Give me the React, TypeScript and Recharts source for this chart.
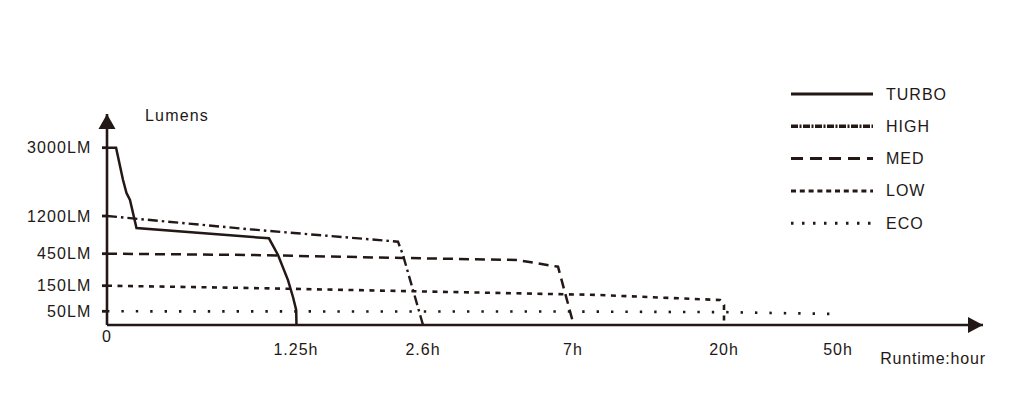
import React from 'react';
import { LineChart, Line, XAxis, YAxis, ReferenceDot } from 'recharts';

// ---- axis ticks (non-linear axes) ----
const X_TICK_HOURS = [0, 1.25, 2.6, 7, 20, 50];
const X_TICK_LABELS = ['0', '1.25h', '2.6h', '7h', '20h', '50h'];
const Y_TICK_LUMENS = [50, 150, 450, 1200, 3000];
const Y_TICK_LABELS = ['50LM', '150LM', '450LM', '1200LM', '3000LM'];

// ---- series: [hours, lumens] ----
const TURBO: [number, number][] = [
  [0, 3000], [0.06, 3000], [0.106, 2149], [0.129, 1806], [0.152, 1622], [0.195, 961],
  [1.071, 756], [1.131, 438], [1.197, 203], [1.23, 106], [1.252, 55], [1.255, 0],
];
const HIGH: [number, number][] = [
  [0, 1200], [0.946, 935], [2.334, 689], [2.387, 438], [2.494, 133], [2.6, 0],
];
const MED: [number, number][] = [
  [0, 450], [0.946, 438], [2.387, 410], [5.357, 391], [6.56, 328], [7.06, 0],
];
const LOW: [number, number][] = [
  [0, 150], [0.946, 141], [9.07, 114], [19.66, 94], [20, 75], [20, 0],
];
const ECO: [number, number][] = [
  [0, 50], [7, 49], [20, 47], [49.7, 40],
];

// ---- axis scale definition (piecewise-linear axis layout) ----
const X_SCALE_VALUES = [0, 1.25, 2.6, 7, 20, 50];
const X_SCALE_UNITS = [0, 189, 316, 466, 617, 731];
const X_DOMAIN_MAX = 876;
const Y_SCALE_VALUES = [0, 50, 150, 450, 1200, 3000];
const Y_SCALE_UNITS = [0, 13.7, 39.3, 71.3, 109, 177.3];
const Y_DOMAIN_MAX = 211;

const INK = '#231815';
const FONT = '"Liberation Sans", Arial, Helvetica, sans-serif';

function piecewise(v: number, vals: number[], units: number[]) {
  const n = vals.length;
  for (let i = 1; i < n; i++) {
    if (v <= vals[i] || i === n - 1) {
      const t = (v - vals[i - 1]) / (vals[i] - vals[i - 1]);
      return units[i - 1] + t * (units[i] - units[i - 1]);
    }
  }
  return 0;
}
const toX = (h: number) => piecewise(h, X_SCALE_VALUES, X_SCALE_UNITS);
const toY = (lm: number) => piecewise(lm, Y_SCALE_VALUES, Y_SCALE_UNITS);
const toPlot = (s: [number, number][]) => s.map(([h, lm]) => ({ x: toX(h), y: toY(lm) }));

const SERIES = [
  { name: 'TURBO', data: TURBO, dash: undefined as string | undefined, legendDash: undefined as string | undefined, width: 2.5 },
  { name: 'HIGH', data: HIGH, dash: '10 4 2.5 4', legendDash: '7 1.5 2 1.5', width: 2.4 },
  { name: 'MED', data: MED, dash: '10 6', legendDash: '12 7', width: 2.5 },
  { name: 'LOW', data: LOW, dash: '5 5.5', legendDash: '5 3.8', width: 2.6 },
  { name: 'ECO', data: ECO, dash: '2.4 12', legendDash: '2.5 8.5', width: 2.6 },
];

const xTickPos = X_TICK_HOURS.map(toX);
const yTickPos = Y_TICK_LUMENS.map(toY);

const XTick = (props: any) => {
  const { x, y, payload } = props;
  const idx = xTickPos.findIndex((p) => Math.abs(p - payload.value) < 1e-6);
  const label = idx >= 0 ? X_TICK_LABELS[idx] : '';
  return (
    <text x={x} y={idx === 0 ? y + 11 : y + 24} textAnchor="middle" dominantBaseline="central"
      fontFamily={FONT} fontSize={16} letterSpacing={1} fill={INK}>{label}</text>
  );
};

const YTick = (props: any) => {
  const { x, y, payload } = props;
  const idx = yTickPos.findIndex((p) => Math.abs(p - payload.value) < 1e-6);
  const label = idx >= 0 ? Y_TICK_LABELS[idx] : '';
  return (
    <text x={x} y={y} textAnchor="end" dominantBaseline="central"
      fontFamily={FONT} fontSize={16} letterSpacing={1.1} fill={INK}>{label}</text>
  );
};

const XArrow = (props: any) => {
  const { cx, cy } = props;
  return (
    <g>
      <polygon points={`${cx},${cy} ${cx - 15},${cy - 8} ${cx - 15},${cy + 8}`} fill={INK} />
      <text x={cx - 50} y={cy + 33} textAnchor="middle" dominantBaseline="central"
        fontFamily={FONT} fontSize={16} letterSpacing={0.8} fill={INK}>Runtime:hour</text>
    </g>
  );
};

const YArrow = (props: any) => {
  const { cx, cy } = props;
  return (
    <g>
      <polygon points={`${cx},${cy} ${cx - 8.5},${cy + 15} ${cx + 8.5},${cy + 15}`} fill={INK} />
      <text x={cx + 70} y={cy + 1} textAnchor="middle" dominantBaseline="central"
        fontFamily={FONT} fontSize={16} letterSpacing={1.2} fill={INK}>Lumens</text>
    </g>
  );
};

const LegendBox = () => (
  <svg width={200} height={160} style={{ position: 'absolute', left: 791, top: 78, display: 'block' }}>
    {SERIES.map((s, i) => {
      const y = 16 + i * 32.3;
      return (
        <g key={s.name}>
          <line x1={0} x2={82} y1={y} y2={y} stroke={INK} strokeWidth={s.name === 'HIGH' ? 3.6 : 3}
            strokeDasharray={s.legendDash} />
          <text x={95} y={y} dominantBaseline="central" fontFamily={FONT} fontSize={16}
            letterSpacing={1} fill={INK}>{s.name}</text>
        </g>
      );
    })}
  </svg>
);

export default function App() {
  return (
    <div style={{ position: 'absolute', left: 0, top: 0, width: 1024, height: 417, background: '#fff' }}>
      <LineChart width={1024} height={417} margin={{ top: 114, right: 41, bottom: 62, left: 47 }}>
        <XAxis type="number" dataKey="x" domain={[0, X_DOMAIN_MAX]} ticks={xTickPos} interval={0}
          height={30} tickSize={0} tickMargin={0} tickLine={false} tick={<XTick />}
          axisLine={{ stroke: INK, strokeWidth: 2.6 }} allowDataOverflow />
        <YAxis type="number" dataKey="y" domain={[0, Y_DOMAIN_MAX]} ticks={yTickPos} interval={0}
          width={60} tickSize={5} tickMargin={10.5} tickLine={{ stroke: INK, strokeWidth: 2.8 }}
          tick={<YTick />} axisLine={{ stroke: INK, strokeWidth: 2.6 }} allowDataOverflow />
        {SERIES.map((s) => (
          <Line key={s.name} data={toPlot(s.data)} dataKey="y" type="linear" stroke={INK}
            strokeWidth={s.width} strokeDasharray={s.dash} dot={false} activeDot={false}
            isAnimationActive={false} legendType="none" />
        ))}
        <ReferenceDot x={X_DOMAIN_MAX} y={0} ifOverflow="visible" shape={<XArrow />} />
        <ReferenceDot x={0} y={Y_DOMAIN_MAX} ifOverflow="visible" shape={<YArrow />} />
      </LineChart>
      <LegendBox />
    </div>
  );
}
